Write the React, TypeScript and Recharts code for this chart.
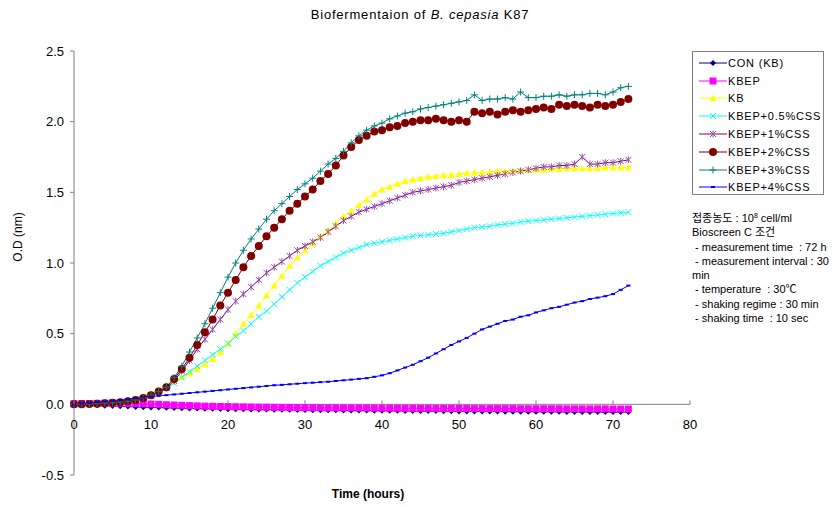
import React from "react";
import { LineChart, Line, XAxis, YAxis, ReferenceLine } from "recharts";

// time points (hours), readings every hour
const HOURS = [
  0, 1, 2, 3, 4, 5, 6, 7, 8, 9, 10, 11, 12, 13, 14, 15, 16, 17, 18, 19, 20, 21, 22, 23, 24,
  25, 26, 27, 28, 29, 30, 31, 32, 33, 34, 35, 36, 37, 38, 39, 40, 41, 42, 43, 44, 45, 46, 47,
  48, 49, 50, 51, 52, 53, 54, 55, 56, 57, 58, 59, 60, 61, 62, 63, 64, 65, 66, 67, 68, 69, 70,
  71, 72,
];

const CON_KB = [
  0.0, -0.002, -0.005, -0.007, -0.01, -0.012, -0.014, -0.016, -0.018, -0.02,
  -0.022, -0.023, -0.025, -0.026, -0.028, -0.029, -0.03, -0.031, -0.032, -0.033,
  -0.034, -0.035, -0.035, -0.036, -0.037, -0.037, -0.038, -0.039, -0.039, -0.04,
  -0.04, -0.041, -0.041, -0.042, -0.042, -0.043, -0.043, -0.044, -0.044, -0.045,
  -0.045, -0.046, -0.046, -0.047, -0.047, -0.048, -0.048, -0.048, -0.049, -0.049,
  -0.05, -0.05, -0.05, -0.051, -0.051, -0.051, -0.052, -0.052, -0.052, -0.052,
  -0.053, -0.053, -0.053, -0.053, -0.054, -0.054, -0.054, -0.054, -0.055, -0.055,
  -0.055, -0.055, -0.055,
];

const KBEP = [
  0.005, 0.006, 0.006, 0.007, 0.008, 0.008, 0.008, 0.007, 0.006, 0.004,
  0.002, 0.0, -0.003, -0.005, -0.007, -0.009, -0.011, -0.013, -0.014, -0.015,
  -0.016, -0.017, -0.018, -0.019, -0.02, -0.02, -0.021, -0.022, -0.022, -0.023,
  -0.023, -0.024, -0.024, -0.025, -0.025, -0.025, -0.026, -0.026, -0.026, -0.027,
  -0.027, -0.027, -0.027, -0.028, -0.028, -0.028, -0.028, -0.029, -0.029, -0.029,
  -0.029, -0.029, -0.03, -0.03, -0.03, -0.03, -0.03, -0.03, -0.031, -0.031,
  -0.031, -0.031, -0.031, -0.031, -0.032, -0.032, -0.032, -0.032, -0.032, -0.032,
  -0.033, -0.033, -0.033,
];

const KB = [
  0.0, 0.002, 0.005, 0.008, 0.012, 0.018, 0.025, 0.034, 0.045, 0.06,
  0.08, 0.105, 0.135, 0.165, 0.195, 0.22, 0.25, 0.285, 0.32, 0.37,
  0.43, 0.5, 0.57, 0.63, 0.7, 0.77, 0.84, 0.91, 0.98, 1.04,
  1.09, 1.14, 1.19, 1.23, 1.28, 1.33, 1.37, 1.41, 1.45, 1.49,
  1.52, 1.54, 1.56, 1.58, 1.59, 1.6, 1.61, 1.615, 1.62, 1.625,
  1.63, 1.635, 1.64, 1.64, 1.645, 1.65, 1.65, 1.655, 1.655, 1.66,
  1.66, 1.66, 1.665, 1.665, 1.67, 1.67, 1.67, 1.67, 1.67, 1.675,
  1.675, 1.675, 1.675,
];

const CSS_05 = [
  0.0, 0.001, 0.003, 0.005, 0.008, 0.012, 0.017, 0.023, 0.032, 0.045,
  0.062, 0.085, 0.115, 0.15, 0.19, 0.23, 0.27, 0.31, 0.35, 0.39,
  0.43, 0.48, 0.52, 0.57, 0.62, 0.66, 0.71, 0.76, 0.81, 0.86,
  0.9, 0.94, 0.98, 1.01, 1.04, 1.07, 1.09, 1.11, 1.13, 1.14,
  1.15, 1.16, 1.17, 1.18, 1.19, 1.195, 1.2, 1.205, 1.21, 1.22,
  1.23, 1.24, 1.25, 1.255, 1.26, 1.27, 1.275, 1.28, 1.29, 1.295,
  1.3, 1.305, 1.31, 1.315, 1.32, 1.325, 1.33, 1.335, 1.34, 1.345,
  1.35, 1.355, 1.36,
];

const CSS_1 = [
  0.0, 0.001, 0.003, 0.005, 0.008, 0.012, 0.017, 0.023, 0.032, 0.045,
  0.062, 0.085, 0.115, 0.165, 0.235, 0.31, 0.39, 0.46, 0.53, 0.6,
  0.67, 0.73, 0.78, 0.83, 0.88, 0.93, 0.97, 1.01, 1.05, 1.09,
  1.12, 1.15, 1.18, 1.22, 1.26, 1.3, 1.33, 1.36, 1.38, 1.4,
  1.42, 1.44, 1.46, 1.48, 1.5, 1.51, 1.52, 1.53, 1.54, 1.55,
  1.57, 1.58, 1.59, 1.6, 1.61, 1.62, 1.63, 1.64, 1.65, 1.66,
  1.67, 1.68, 1.68, 1.69, 1.69, 1.7, 1.75, 1.7, 1.7, 1.71,
  1.71, 1.72, 1.73,
];

const CSS_2 = [
  0.0, 0.001, 0.003, 0.005, 0.008, 0.011, 0.015, 0.021, 0.03, 0.045,
  0.065, 0.09, 0.12, 0.18, 0.25, 0.33, 0.42, 0.51, 0.6, 0.7,
  0.79, 0.88, 0.97, 1.05, 1.12, 1.19, 1.25, 1.31, 1.37, 1.42,
  1.47, 1.52, 1.58, 1.63, 1.69, 1.76, 1.82, 1.87, 1.9, 1.93,
  1.94, 1.96, 1.97, 1.99, 2.0, 2.01, 2.01, 2.02, 2.01, 2.0,
  2.01, 2.0, 2.07, 2.06, 2.07, 2.05, 2.07, 2.08, 2.07, 2.08,
  2.09, 2.1, 2.09, 2.12, 2.11, 2.12, 2.11, 2.1, 2.12, 2.11,
  2.12, 2.14, 2.16,
];

const CSS_3 = [
  0.0, 0.001, 0.003, 0.005, 0.008, 0.011, 0.015, 0.021, 0.03, 0.045,
  0.065, 0.09, 0.12, 0.19, 0.27, 0.37, 0.47, 0.57, 0.68, 0.79,
  0.9, 1.0, 1.09, 1.17, 1.24, 1.31, 1.37, 1.42, 1.47, 1.52,
  1.56, 1.6, 1.65, 1.7, 1.74, 1.79, 1.85, 1.9, 1.94, 1.97,
  1.99, 2.02, 2.04, 2.06, 2.07, 2.09, 2.1, 2.11, 2.12, 2.13,
  2.14, 2.15, 2.19, 2.15, 2.16, 2.16, 2.17, 2.16, 2.21, 2.17,
  2.17, 2.18, 2.18, 2.19, 2.18, 2.19, 2.19, 2.2, 2.2, 2.19,
  2.21, 2.24, 2.25,
];

const CSS_4 = [
  0.0, 0.005, 0.01, 0.015, 0.02, 0.025, 0.03, 0.037, 0.045, 0.05,
  0.055, 0.06, 0.065, 0.07, 0.075, 0.08, 0.085, 0.09, 0.095, 0.1,
  0.105, 0.11, 0.115, 0.12, 0.125, 0.13, 0.135, 0.138, 0.142, 0.146,
  0.15, 0.153, 0.157, 0.16, 0.165, 0.17, 0.175, 0.18, 0.185, 0.195,
  0.205, 0.22, 0.24, 0.26, 0.28, 0.305, 0.33, 0.36, 0.39, 0.42,
  0.445, 0.47, 0.5, 0.53, 0.55, 0.57, 0.59, 0.6, 0.62, 0.63,
  0.65, 0.665, 0.68, 0.69, 0.705, 0.72, 0.73, 0.745, 0.755, 0.765,
  0.78, 0.81, 0.84,
];

const X_TICKS = [0, 10, 20, 30, 40, 50, 60, 70, 80];
const Y_TICKS = [-0.5, 0, 0.5, 1.0, 1.5, 2.0, 2.5];

const NOTES = [
  "Bioscreen C 조건",
  " - measurement time  : 72 h",
  " - measurement interval : 30",
  "min",
  " - temperature  : 30℃",
  " - shaking regime : 30 min",
  " - shaking time  : 10 sec",
];

const SERIES = [
  { key: "con", name: "CON (KB)", color: "#000080", marker: "diamond", values: CON_KB },
  { key: "kbep", name: "KBEP", color: "#FF00FF", marker: "square", values: KBEP },
  { key: "kb", name: "KB", color: "#FFFF00", marker: "triangle", values: KB },
  { key: "c05", name: "KBEP+0.5%CSS", color: "#00FFFF", marker: "x", values: CSS_05 },
  { key: "c1", name: "KBEP+1%CSS", color: "#800080", marker: "star", values: CSS_1 },
  { key: "c2", name: "KBEP+2%CSS", color: "#800000", marker: "circle", values: CSS_2 },
  { key: "c3", name: "KBEP+3%CSS", color: "#008080", marker: "plus", values: CSS_3 },
  { key: "c4", name: "KBEP+4%CSS", color: "#0000FF", marker: "dash", values: CSS_4 },
];

const data = HOURS.map((h, i) => {
  const row: Record<string, number> = { h };
  SERIES.forEach((s) => {
    row[s.key] = s.values[i];
  });
  return row;
});

const W = 834;
const H = 507;
const PLOT_TOP = 51;
const PLOT_BOTTOM = 475;
const Y_MIN = -0.5;
const Y_MAX = 2.5;
// pixel row of O.D = 0, where the time axis is drawn
const ZERO_Y = PLOT_TOP + ((PLOT_BOTTOM - PLOT_TOP) * Y_MAX) / (Y_MAX - Y_MIN);

const FONT = '"Liberation Sans", Arial, "Noto Sans CJK KR", sans-serif';

function marker(kind: string, color: string, cx: number, cy: number) {
  switch (kind) {
    case "diamond":
      return <path d={`M${cx},${cy - 3}L${cx + 3},${cy}L${cx},${cy + 3}L${cx - 3},${cy}Z`} fill={color} />;
    case "square":
      return <rect x={cx - 3.5} y={cy - 3.5} width={7} height={7} fill={color} />;
    case "triangle":
      return <path d={`M${cx},${cy - 3.5}L${cx + 3.5},${cy + 3}L${cx - 3.5},${cy + 3}Z`} fill={color} />;
    case "x":
      return (
        <path
          d={`M${cx - 3},${cy - 3}L${cx + 3},${cy + 3}M${cx - 3},${cy + 3}L${cx + 3},${cy - 3}`}
          stroke={color}
          strokeWidth={1}
        />
      );
    case "star":
      return (
        <path
          d={`M${cx - 3},${cy - 3}L${cx + 3},${cy + 3}M${cx - 3},${cy + 3}L${cx + 3},${cy - 3}M${cx},${cy - 3.5}L${cx},${cy + 3.5}`}
          stroke="#9a4fa8"
          strokeWidth={1}
        />
      );
    case "circle":
      return <circle cx={cx} cy={cy} r={4} fill={color} />;
    case "plus":
      return (
        <path
          d={`M${cx - 3.5},${cy}L${cx + 3.5},${cy}M${cx},${cy - 3.5}L${cx},${cy + 3.5}`}
          stroke={color}
          strokeWidth={1}
        />
      );
    case "dash":
      return <path d={`M${cx - 2},${cy}L${cx + 2},${cy}`} stroke={color} strokeWidth={2} />;
    default:
      return null;
  }
}

const XTick = (props: any) => {
  const { x, payload } = props;
  return (
    <g>
      <line x1={x} y1={ZERO_Y} x2={x} y2={ZERO_Y - 4} stroke="#808080" />
      <text x={x} y={ZERO_Y + 25} textAnchor="middle" fontSize={13} fill="#000" fontFamily={FONT}>
        {payload.value}
      </text>
    </g>
  );
};

const ChartLegend = () => (
  <div
    style={{
      position: "absolute",
      left: 692,
      top: 51,
      width: 132,
      height: 144,
      border: "1px solid #808080",
      background: "#fff",
      fontFamily: FONT,
      fontSize: 11,
      letterSpacing: 0.8,
      paddingTop: 2,
      boxSizing: "border-box",
    }}
  >
    {SERIES.map((s) => (
      <div key={s.key} style={{ height: 17.8, display: "flex", alignItems: "center" }}>
        <svg width={32} height={10} style={{ marginLeft: 3, marginRight: 0 }}>
          <line x1={3} y1={5} x2={31} y2={5} stroke={s.color} strokeWidth={1} />
          {marker(s.marker, s.color, 17, 5)}
        </svg>
        <span>{s.name}</span>
      </div>
    ))}
  </div>
);

export default function App() {
  return (
    <div
      style={{
        position: "absolute",
        left: 0,
        top: 0,
        width: W,
        height: H,
        overflow: "hidden",
        background: "#fff",
        fontFamily: FONT,
      }}
    >
      <div
        style={{
          position: "absolute",
          left: 420,
          top: 14,
          transform: "translate(-50%, -50%)",
          fontSize: 13,
          letterSpacing: 0.8,
          whiteSpace: "nowrap",
        }}
      >
        Biofermentaion of <i>B. cepasia</i> K87
      </div>

      <LineChart
        width={W}
        height={H}
        data={data}
        margin={{ top: PLOT_TOP, right: 144, bottom: 0, left: 0 }}
      >
        <XAxis
          dataKey="h"
          type="number"
          domain={[0, 80]}
          ticks={X_TICKS}
          axisLine={false}
          tickLine={false}
          height={H - PLOT_BOTTOM}
          tick={<XTick />}
          interval={0}
        />
        <YAxis
          type="number"
          domain={[Y_MIN, Y_MAX]}
          ticks={Y_TICKS}
          width={74}
          axisLine={{ stroke: "#808080" }}
          tickLine={{ stroke: "#808080" }}
          tickSize={4}
          tickMargin={6}
          tick={{ fontSize: 13, fill: "#000", fontFamily: FONT }}
          tickFormatter={(v: number) => v.toFixed(1)}
          interval={0}
        />
        <ReferenceLine y={0} stroke="#808080" strokeWidth={1} />
        {SERIES.map((s) => (
          <Line
            key={s.key}
            dataKey={s.key}
            name={s.name}
            type="linear"
            stroke={s.color}
            strokeWidth={1}
            isAnimationActive={false}
            activeDot={false}
            dot={(p: any) => (
              <g key={`${s.key}-${p.index}`}>
                {p.cx == null || p.cy == null ? null : marker(s.marker, s.color, p.cx, p.cy)}
              </g>
            )}
          />
        ))}
      </LineChart>

      <div
        style={{
          position: "absolute",
          left: 18,
          top: 237,
          transform: "translate(-50%, -50%) rotate(-90deg)",
          fontSize: 12,
          whiteSpace: "nowrap",
        }}
      >
        O.D (nm)
      </div>

      <div
        style={{
          position: "absolute",
          left: 368,
          top: 494,
          transform: "translate(-50%, -50%)",
          fontSize: 12,
          fontWeight: "bold",
          whiteSpace: "nowrap",
        }}
      >
        Time (hours)
      </div>

      <ChartLegend />

      <div
        style={{
          position: "absolute",
          left: 692,
          top: 211,
          fontSize: 11,
          letterSpacing: 0,
          lineHeight: "14.3px",
          whiteSpace: "pre",
          color: "#000",
        }}
      >
        <div>
          접종농도 : 10<sup style={{ fontSize: 7, verticalAlign: "top", lineHeight: "10px" }}>8</sup> cell/ml
        </div>
        {NOTES.map((n, i) => (
          <div key={i}>{n}</div>
        ))}
      </div>
    </div>
  );
}
